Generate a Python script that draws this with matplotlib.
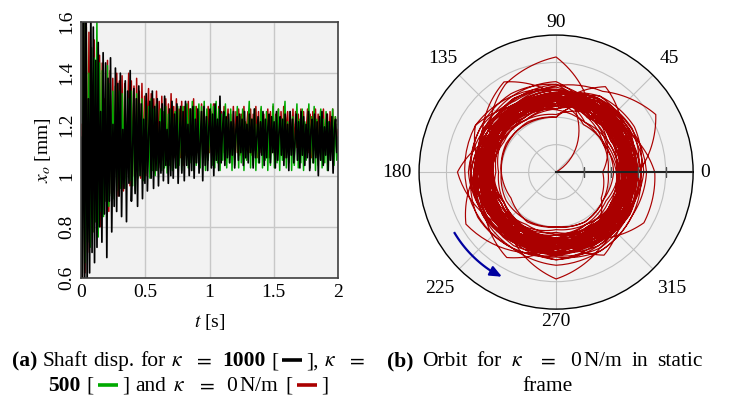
import numpy as np
import matplotlib
matplotlib.use('Agg')
import matplotlib.pyplot as plt
from matplotlib.lines import Line2D

plt.rcParams['font.family'] = ['Liberation Serif', 'DejaVu Serif']
plt.rcParams['mathtext.fontset'] = 'stix'

# --- (a) shaft displacement x_o [mm], sampled evenly over 0..2 s ---
x_black = [1.15, 0.50, 1.70, 0.55, 1.72, 0.58, 1.30, 0.62, 1.66, 0.70, 1.58, 0.66, 1.45, 0.72, 1.52,
           0.80, 1.25, 0.74, 1.48, 0.85, 1.44, 0.68, 1.38, 0.90, 1.46, 0.78, 1.20, 0.88, 1.42, 0.86,
           1.36, 0.92, 1.40, 0.84, 1.18, 0.95, 1.37, 0.82, 1.33, 0.97, 1.41, 0.90, 1.10, 1.34, 0.93,
           1.30, 0.88, 1.35, 1.00, 1.28, 0.91, 1.22, 0.97, 1.32, 0.94, 1.16, 1.29, 0.99, 1.33, 0.95,
           1.27, 1.02, 1.30, 0.96, 1.21, 1.01, 1.28, 0.98, 1.31, 1.04, 1.18, 0.97, 1.26, 1.00, 1.29,
           0.99, 1.24, 1.03, 1.28, 0.97, 1.15, 1.27, 1.01, 1.25, 0.98, 1.29, 1.04, 1.20, 1.00, 1.26,
           1.02, 1.27, 0.99, 1.22, 1.05, 1.26, 1.01, 1.13, 1.25, 0.98, 1.27, 1.04, 1.23, 1.02, 1.19,
           1.26, 1.03, 1.24, 1.00, 1.28, 1.06, 1.22, 1.02, 1.31, 1.05, 1.17, 1.25, 1.04, 1.23, 1.07,
           1.24, 1.05, 1.21, 1.08, 1.25, 1.03, 1.18, 1.23, 1.06, 1.24, 1.09, 1.22, 1.04, 1.25, 1.07,
           1.20, 1.05, 1.24, 1.09, 1.22, 1.03, 1.26, 1.07, 1.15, 1.23, 1.05, 1.21, 1.08, 1.25, 1.04,
           1.22, 1.07, 1.19, 1.24, 1.05, 1.23, 1.09, 1.21, 1.03, 1.25, 1.06, 1.17, 1.23, 1.08, 1.22,
           1.04, 1.24, 1.07, 1.20, 1.02, 1.25, 1.08, 1.22, 1.05, 1.13, 1.24, 1.06, 1.21, 1.03, 1.25,
           1.08, 1.23, 1.04, 1.20, 1.07, 1.25, 1.02, 1.18, 1.22, 1.05, 1.24, 1.07, 1.21, 1.00, 1.23,
           1.06, 1.25, 1.04, 1.19, 1.08, 1.24, 1.02, 1.21, 1.06, 1.23, 1.01, 1.18, 1.22, 1.09, 1.15]
x_green = [1.10, 0.62, 1.62, 0.66, 1.58, 0.74, 1.40, 0.72, 1.50, 0.78, 1.46, 0.82, 1.62, 0.76, 1.44,
           0.86, 1.41, 0.84, 1.25, 0.90, 1.43, 0.88, 1.36, 0.92, 1.33, 0.91, 1.35, 0.94, 1.20, 1.33,
           0.95, 1.32, 0.97, 1.34, 0.95, 1.18, 1.30, 0.98, 1.33, 0.96, 1.29, 0.94, 1.32, 0.99, 1.28,
           1.00, 1.30, 0.98, 1.20, 1.29, 1.01, 1.27, 0.99, 1.30, 1.02, 1.26, 1.00, 1.28, 1.02, 1.16,
           1.26, 1.02, 1.25, 1.03, 1.27, 1.01, 1.24, 1.04, 1.26, 1.02, 1.18, 1.25, 1.03, 1.27, 1.04,
           1.25, 1.02, 1.27, 1.05, 1.16, 1.28, 1.03, 1.26, 1.05, 1.29, 1.02, 1.27, 1.04, 1.20, 1.28,
           1.03, 1.27, 1.05, 1.29, 1.02, 1.26, 1.06, 1.15, 1.28, 1.04, 1.27, 1.03, 1.29, 1.05, 1.26,
           1.02, 1.24, 1.06, 1.18, 1.28, 1.03, 1.22, 1.05, 1.26, 1.02, 1.21, 1.04, 1.14, 1.27, 1.03,
           1.23, 1.05, 1.26, 1.02, 1.21, 1.06, 1.19, 1.29, 1.03, 1.22, 1.04, 1.26, 1.02, 1.20, 1.05,
           1.17, 1.27, 1.03, 1.22, 1.06, 1.25, 1.02, 1.21, 1.04, 1.15, 1.28, 1.03, 1.23, 1.05, 1.26,
           1.02, 1.22, 1.06, 1.20, 1.29, 1.03, 1.21, 1.05, 1.25, 1.02, 1.23, 1.04, 1.16, 1.28, 1.03,
           1.22, 1.05, 1.26, 1.02, 1.21, 1.06, 1.18, 1.28, 1.03, 1.23, 1.05, 1.27, 1.02, 1.22, 1.04,
           1.20, 1.26, 1.03, 1.22, 1.05, 1.25, 1.02, 1.21, 1.06, 1.16, 1.26, 1.04, 1.23, 1.06, 1.12]
x_red = [1.20, 0.58, 1.65, 0.62, 1.60, 0.70, 1.56, 0.74, 1.35, 0.78, 1.53, 0.82, 1.50, 0.85, 1.47,
         0.80, 1.44, 0.88, 1.30, 0.90, 1.45, 0.86, 1.41, 0.93, 1.38, 0.95, 1.25, 1.40, 0.92, 1.37,
         0.97, 1.39, 0.94, 1.36, 0.99, 1.20, 1.40, 0.96, 1.37, 1.00, 1.35, 0.98, 1.38, 1.02, 1.33,
         0.99, 1.36, 1.03, 1.31, 1.00, 1.22, 1.34, 1.02, 1.32, 1.04, 1.30, 1.01, 1.33, 1.05, 1.29,
         1.03, 1.31, 1.06, 1.20, 1.30, 1.04, 1.28, 1.06, 1.32, 1.03, 1.27, 1.07, 1.30, 1.05, 1.26,
         1.07, 1.29, 1.04, 1.27, 1.08, 1.18, 1.29, 1.06, 1.26, 1.08, 1.30, 1.05, 1.27, 1.09, 1.25,
         1.06, 1.28, 1.08, 1.26, 1.07, 1.16, 1.27, 1.09, 1.25, 1.06, 1.28, 1.08, 1.24, 1.10, 1.27,
         1.07, 1.25, 1.09, 1.27, 1.06, 1.17, 1.26, 1.08, 1.24, 1.10, 1.27, 1.07, 1.25, 1.09, 1.26,
         1.08, 1.24, 1.10, 1.27, 1.07, 1.19, 1.25, 1.09, 1.26, 1.08, 1.24, 1.10, 1.27, 1.07, 1.25,
         1.09, 1.26, 1.08, 1.24, 1.10, 1.18, 1.26, 1.07, 1.25, 1.09, 1.27, 1.08, 1.24, 1.10, 1.26,
         1.08, 1.25, 1.09, 1.27, 1.07, 1.20, 1.25, 1.10, 1.24, 1.08, 1.26, 1.09, 1.25, 1.11, 1.24,
         1.09, 1.26, 1.08, 1.25, 1.10, 1.17, 1.26, 1.09, 1.24, 1.07, 1.25, 1.10, 1.26, 1.08, 1.24,
         1.10, 1.25, 1.09, 1.26, 1.11, 1.19, 1.24, 1.09, 1.25, 1.10, 1.26, 1.08, 1.23, 1.11, 1.18]

# --- (b) orbit, kappa = 0: start-up path, then 12 radius samples per turn
start_theta_deg = [30, 45, 52, 60, 75]
start_r = [0.0, 0.9, 1.6, 2.1, 2.5]
# each row: theta = 90,120,150,180,210,240,270,300,330,0,30,60 deg
orbit_r = [
    [2.6, 2.5, 2.4, 2.3, 2.5, 2.6, 2.4, 2.2, 2.3, 2.5, 2.7, 2.8],
    [2.9, 2.7, 2.6, 2.8, 2.9, 2.7, 2.5, 2.6, 2.8, 2.9, 2.6, 2.5],
    [4.2, 3.7, 2.8, 2.6, 2.4, 2.7, 2.9, 2.7, 2.5, 2.4, 2.6, 3.0],
    [2.0, 2.1, 2.0, 2.0, 2.1, 2.0, 2.0, 2.1, 2.0, 1.9, 2.0, 2.1],
    [2.8, 2.6, 2.4, 2.5, 2.7, 2.9, 3.0, 2.8, 2.6, 2.7, 2.9, 2.7],
    [3.1, 3.0, 3.2, 3.1, 2.9, 3.0, 3.2, 3.1, 3.0, 3.2, 3.1, 3.0],
    [2.5, 2.6, 2.7, 2.5, 2.7, 2.6, 2.5, 2.7, 2.8, 2.6, 2.5, 2.7],
    [2.3, 2.2, 2.4, 2.3, 2.2, 2.4, 2.3, 2.2, 2.4, 2.3, 2.2, 2.3],
    [2.5, 2.3, 2.5, 2.7, 2.8, 2.6, 2.4, 2.5, 2.7, 2.6, 2.4, 2.3],
    [2.7, 2.9, 3.0, 2.9, 3.8, 3.3, 2.8, 2.7, 2.9, 3.0, 2.8, 2.6],
    [3.0, 3.1, 2.9, 3.0, 3.1, 3.2, 3.0, 2.9, 3.1, 3.0, 3.2, 3.1],
    [2.8, 2.6, 2.7, 2.8, 2.6, 2.8, 2.7, 2.6, 2.5, 2.7, 2.8, 3.6],
    [2.4, 2.3, 2.2, 2.4, 2.5, 2.3, 2.2, 2.4, 2.3, 2.2, 2.4, 2.5],
    [2.4, 2.6, 2.8, 2.6, 2.5, 2.3, 2.6, 2.8, 2.7, 2.5, 2.3, 2.5],
    [3.3, 3.2, 3.4, 3.3, 3.1, 3.2, 3.4, 3.3, 3.2, 3.3, 3.2, 3.2],
    [2.9, 2.8, 2.6, 2.4, 2.6, 2.8, 2.9, 3.1, 3.0, 2.8, 2.7, 2.9],
    [2.3, 2.5, 2.4, 2.2, 2.3, 2.5, 2.4, 2.3, 2.2, 2.4, 2.5, 2.3],
    [2.6, 2.5, 2.8, 2.6, 2.4, 2.7, 2.8, 2.5, 2.7, 2.8, 2.6, 2.5],
    [2.6, 2.4, 2.3, 2.5, 2.7, 2.5, 2.3, 2.4, 2.6, 3.0, 4.2, 3.4],
    [3.1, 2.9, 3.0, 3.2, 3.0, 2.9, 3.1, 3.2, 3.0, 2.9, 3.0, 3.2],
    [2.8, 2.7, 2.9, 3.1, 2.8, 2.6, 2.7, 2.9, 2.7, 2.5, 2.6, 2.8],
    [2.4, 2.2, 2.3, 2.5, 2.4, 2.2, 2.3, 2.5, 2.4, 2.3, 2.1, 2.4],
    [2.7, 2.8, 3.4, 2.7, 2.8, 2.5, 2.6, 2.8, 2.6, 2.5, 2.7, 2.8],
    [3.0, 3.2, 3.1, 2.9, 3.1, 3.0, 2.9, 3.0, 3.2, 3.1, 2.9, 3.0],
    [2.5, 2.6, 2.7, 2.4, 2.3, 2.5, 2.7, 2.6, 2.4, 2.3, 2.5, 2.7],
    [3.0, 2.9, 2.7, 2.6, 2.8, 3.0, 3.9, 3.2, 2.8, 2.7, 2.9, 3.1],
    [2.5, 2.4, 2.6, 2.4, 2.3, 2.5, 2.6, 2.4, 2.5, 2.3, 2.4, 2.6],
    [2.5, 2.6, 2.7, 2.9, 2.7, 2.6, 2.8, 2.6, 2.7, 2.9, 2.8, 2.6],
    [2.9, 2.8, 3.0, 3.0, 2.9, 2.8, 3.0, 2.9, 2.8, 3.0, 2.9, 2.8],
    [2.7, 2.5, 2.4, 2.6, 2.9, 2.8, 2.6, 2.5, 2.6, 2.8, 2.7, 2.5],
    [2.1, 2.2, 2.3, 2.1, 2.2, 2.3, 2.1, 2.2, 2.1, 2.3, 2.2, 2.1],
    [2.3, 2.4, 2.6, 2.8, 2.6, 2.4, 2.5, 2.7, 2.9, 2.6, 2.4, 2.4],
    [3.2, 3.0, 2.9, 3.1, 3.0, 2.9, 3.2, 3.0, 3.1, 2.9, 3.0, 3.1],
    [2.9, 2.7, 2.5, 2.6, 2.8, 2.7, 2.5, 2.6, 2.8, 2.7, 2.5, 2.7],
    [2.8, 3.8, 3.1, 2.7, 2.6, 2.7, 2.9, 2.8, 2.7, 2.9, 3.0, 2.9],
    [2.5, 2.3, 2.4, 2.5, 2.2, 2.3, 2.4, 2.6, 2.4, 2.3, 2.5, 2.4],
    [2.6, 2.4, 2.5, 2.7, 2.5, 2.3, 2.4, 3.5, 2.8, 2.7, 2.5, 2.6],
    [2.8, 2.9, 2.8, 3.0, 3.1, 2.9, 2.8, 2.9, 3.0, 2.8, 2.9, 3.0],
    [2.6, 2.8, 2.7, 2.5, 2.6, 2.8, 2.7, 2.9, 2.6, 2.5, 2.7, 2.6],
    [2.9, 2.8, 2.6, 2.5, 2.7, 2.9, 2.8, 2.6, 2.5, 2.4, 2.7, 2.9],
    [2.4, 2.6, 2.3, 2.4, 2.6, 2.4, 2.5, 2.3, 2.5, 2.4, 2.3, 2.5],
    [2.7, 2.6, 2.8, 3.0, 2.9, 2.7, 2.6, 2.8, 3.7, 3.6, 3.0, 2.7],
    [3.0, 2.9, 3.1, 2.8, 2.9, 3.1, 3.0, 2.8, 2.9, 3.1, 3.0, 2.9],
    [2.7, 2.5, 2.6, 2.8, 2.9, 2.6, 2.5, 2.7, 2.8, 2.6, 2.8, 2.9],
    [2.4, 2.5, 2.4, 2.3, 2.5, 2.6, 2.8, 2.7, 1.9, 1.7, 2.2, 2.6],
    [2.3, 2.4, 2.6, 2.5, 2.3, 2.4, 2.6, 2.5, 2.3, 2.5, 2.6, 2.4],
    [2.8, 2.9, 2.7, 2.6, 2.8, 2.9, 2.7, 2.5, 2.6, 2.8, 2.9, 3.0],
    [2.9, 3.1, 2.9, 3.0, 2.8, 2.9, 3.1, 3.0, 2.9, 2.8, 3.1, 3.0],
    [2.8, 2.7, 2.9, 2.7, 2.5, 2.4, 2.7, 2.8, 2.5, 2.7, 2.6, 2.5],
    [2.6, 2.4, 2.6, 3.6, 3.0, 2.5, 2.3, 2.4, 2.6, 2.5, 2.4, 2.5],
    [2.7, 2.8, 2.9, 2.7, 2.6, 2.8, 3.0, 2.9, 2.8, 2.6, 2.7, 2.8],
    [3.2, 3.3, 3.2, 3.1, 3.3, 3.2, 3.1, 3.3, 3.2, 3.1, 3.3, 3.2],
    [2.5, 2.6, 2.5, 2.7, 2.8, 2.9, 2.6, 2.5, 2.7, 2.8, 2.7, 2.8],
    [2.5, 2.7, 2.5, 2.4, 2.2, 2.4, 2.6, 2.4, 2.3, 2.4, 2.6, 2.7],
    [3.0, 2.8, 2.7, 2.8, 3.0, 3.6, 2.7, 2.8, 3.0, 3.1, 2.9, 2.8],
    [2.7, 2.9, 2.8, 2.6, 2.7, 2.5, 2.8, 2.7, 2.6, 2.5, 2.9, 2.7],
    [2.6, 2.5, 2.3, 2.2, 2.4, 2.7, 2.5, 2.6, 2.4, 2.2, 2.0, 2.3],
    [2.8, 2.7, 2.8, 2.9, 2.7, 2.5, 2.7, 3.0, 2.9, 2.7, 2.8, 3.0],
    [2.0, 2.1, 2.1, 2.0, 1.9, 2.1, 2.0, 2.1, 2.0, 2.1, 2.0, 2.0],
    [2.6, 2.7, 2.6, 2.8, 2.6, 2.7, 2.9, 2.6, 2.8, 2.7, 2.6, 2.5],
    [2.7, 2.9, 2.6, 2.5, 2.6, 2.8, 2.6, 2.4, 2.5, 2.7, 2.5, 2.4],
    [2.8, 2.6, 2.8, 2.5, 2.7, 2.8, 2.6, 2.8, 2.7, 2.9, 2.7, 2.8],
    [2.5, 2.6, 2.8, 2.7, 2.9, 3.1, 2.9, 2.7, 2.8, 2.9, 2.7, 2.6],
    [2.6, 2.8, 2.7, 2.6, 2.9, 2.7, 2.7, 2.5, 2.6, 2.8, 2.5, 2.7],
    [2.8, 2.7, 2.5, 2.4, 2.6, 2.5, 2.7, 2.9, 2.7, 2.5, 2.6, 2.7],
    [2.7, 2.5, 2.6, 2.7, 2.6, 2.5, 2.8, 2.7, 2.9, 2.6, 2.8, 2.6],
    [2.6, 2.8, 2.9, 2.8, 2.7, 2.6, 2.8, 2.6, 2.4, 2.6, 2.8, 2.9],
    [2.9, 2.7, 2.8, 2.9, 2.7, 2.8, 2.6, 2.8, 2.7, 2.8, 2.6, 2.8],
    [2.9, 2.6, 2.4, 2.6, 2.8, 2.7, 2.5, 2.7, 2.9, 2.8, 2.6, 2.8],
    [2.7, 2.5, 2.6, 2.7, 2.5, 2.4, 2.6, 2.8, 2.6, 2.4, 2.5, 2.6],
]

c_black, c_green, c_red, c_blue = '#000000', '#00aa00', '#aa0000', '#0000a0'

fig = plt.figure(figsize=(7.39, 4.03), dpi=100)
W, H = fig.get_size_inches() * fig.dpi

# ---------------- left: time signal ----------------
ax = fig.add_axes([81/739, 1-278/403, 257/739, 256/403])
ax.set_facecolor('#f2f2f2')
for vals, col, lw in [(x_red, c_red, 1.1), (x_green, c_green, 1.1), (x_black, c_black, 1.25)]:
    t = np.linspace(0, 2, len(vals))
    ax.plot(t, vals, color=col, lw=lw)
ax.set_xlim(0, 2)
ax.set_ylim(0.6, 1.6)
ax.set_xticks([0, 0.5, 1, 1.5, 2])
ax.set_xticklabels(['0', '0.5', '1', '1.5', '2'])
ax.set_yticks([0.6, 0.8, 1.0, 1.2, 1.4, 1.6])
ax.set_yticklabels(['0.6', '0.8', '1', '1.2', '1.4', '1.6'], rotation=90, va='center')
ax.grid(True, color='#c8c8c8', lw=1.0)
ax.set_axisbelow(True)
ax.tick_params(length=0, labelsize=14, pad=4)
for s in ax.spines.values():
    s.set_color('#404040')
    s.set_linewidth(1.2)
ax.set_xlabel('$t$ [s]', fontsize=14, labelpad=8)
ax.set_ylabel('$x_o$ [mm]', fontsize=14, labelpad=4)

# ---------------- right: orbit ----------------
pax = fig.add_axes([0.567, 0.233, 0.371, 0.680], projection='polar')
pax.set_facecolor('#f2f2f2')
orbit_flat = np.concatenate(orbit_r)
th_orbit = np.deg2rad(90 + 30 * np.arange(len(orbit_flat)))
ln, = pax.plot(np.concatenate([np.deg2rad(start_theta_deg), th_orbit]),
               np.concatenate([start_r, orbit_flat]), color=c_red, lw=0.85)
ln.get_path()._interpolation_steps = 16
pax.set_ylim(0, 5)
pax.set_rticks([1, 2, 3, 4])
pax.set_yticklabels([])
pax.set_thetagrids(range(0, 360, 45), [''] * 8)
pax.grid(True, color='#c0c0c0', lw=0.8)
pax.spines['polar'].set_color('black')
pax.spines['polar'].set_linewidth(1.0)
lab_r = {0: 5.44, 45: 5.84, 90: 5.47, 135: 5.87, 180: 5.80, 225: 5.99, 270: 5.47, 315: 5.99}
for a, rr in lab_r.items():
    pax.text(np.deg2rad(a), rr, str(a), fontsize=14, ha='center', va='center')
# zero axis line with tick marks
pax.plot([0, 0], [0, 5], color='#202020', lw=1.5, zorder=5)
pax.plot([0, 0, 0, 0], [1, 2, 3, 4], ls='none', marker='|', ms=7, color='#505050', zorder=5)
# rotation arrow
arc = np.deg2rad(np.linspace(211, 238, 20))
pax.plot(arc, np.full(arc.shape, 4.32), color=c_blue, lw=1.6, zorder=6)
pax.annotate('', xy=(np.deg2rad(244), 4.3), xytext=(arc[-2], 4.32),
             arrowprops=dict(arrowstyle='-|>,head_length=0.7,head_width=0.3',
                             color=c_blue, lw=1.6), zorder=6)

# ---------------- captions ----------------
fig.canvas.draw()
rend = fig.canvas.get_renderer()
FS = 15.5
GAP = {'g': 4.0, 'm': 9.0}   # word gap / gap around relation sign, px
BAR = 28.0                   # legend swatch width in px


def caption_line(x0, y_px, items, x_end=None):
    objs = []
    for it in items:
        if it[0] == 't':
            tt = fig.text(0, 1 - y_px / H, it[1], fontsize=FS, fontweight=it[2], va='baseline')
            objs.append(('t', tt, tt.get_window_extent(rend).width))
        elif it[0] == 'bar':
            objs.append(('bar', it[1], BAR))
        else:
            objs.append(('g', None, GAP[it[0]]))
    natural = sum(o[2] for o in objs)
    n_gap = sum(1 for o in objs if o[0] == 'g')
    extra = 0.0
    if x_end is not None and n_gap:
        extra = (x_end - x0 - natural) / n_gap
    x = x0
    for kind, obj, w in objs:
        if kind == 't':
            obj.set_x(x / W)
        elif kind == 'bar':
            fig.add_artist(Line2D([(x + 4) / W, (x + w - 4) / W],
                                  [1 - (y_px - 6.5) / H] * 2, color=obj, lw=2.6,
                                  solid_capstyle='butt', transform=fig.transFigure))
        else:
            w = w + extra
        x += w


kap = ('t', r'$\kappa$', 'normal')
eq = ('t', r'$=$', 'normal')
caption_line(12, 366, [('t', '(a)', 'bold'), ('g',), ('t', 'Shaft', 'normal'), ('g',),
                       ('t', 'disp.', 'normal'), ('g',), ('t', 'for', 'normal'), ('g',),
                       kap, ('m',), eq, ('m',), ('t', '1000', 'bold'), ('g',),
                       ('t', '[', 'normal'), ('bar', c_black), ('t', '],', 'normal'), ('g',),
                       kap, ('m',), eq], x_end=365)
caption_line(48, 391, [('t', '500', 'bold'), ('g',), ('t', '[', 'normal'), ('bar', c_green),
                       ('t', ']', 'normal'), ('g',), ('t', 'and', 'normal'), ('g',),
                       kap, ('m',), eq, ('m',), ('t', r'0$\,$N/m', 'normal'), ('g',),
                       ('t', '[', 'normal'), ('bar', c_red), ('t', ']', 'normal')], x_end=328)
caption_line(387, 366, [('t', '(b)', 'bold'), ('g',), ('t', 'Orbit', 'normal'), ('g',),
                        ('t', 'for', 'normal'), ('g',), kap, ('m',), eq, ('m',),
                        ('t', r'0$\,$N/m', 'normal'), ('g',), ('t', 'in', 'normal'), ('g',),
                        ('t', 'static', 'normal')], x_end=703)
fig.text(547 / W, 1 - 391 / H, 'frame', fontsize=FS, ha='center', va='baseline')

fig.savefig('out.png', dpi=100)
